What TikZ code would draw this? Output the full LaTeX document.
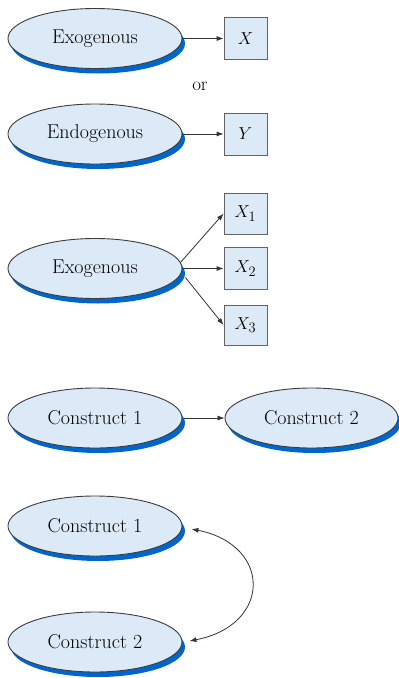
\documentclass[tikz,border=0pt]{standalone}
\usetikzlibrary{shadows,arrows.meta,shapes.geometric}
\definecolor{fillblue}{RGB}{220,233,246}
\definecolor{shadowblue}{RGB}{0,102,204}
\definecolor{edgegray}{RGB}{60,60,60}
\begin{document}
\begin{tikzpicture}[x=1pt,y=-1pt,
  construct/.style={ellipse,draw=edgegray,line width=0.9pt,fill=fillblue,
    minimum width=174pt,minimum height=60pt,inner sep=0pt,
    general shadow={fill=shadowblue,shadow xshift=3pt,shadow yshift=-5pt},
    font=\fontsize{20}{24}\selectfont},
  varbox/.style={rectangle,draw=edgegray!80,line width=0.8pt,fill=fillblue,
    minimum width=43pt,minimum height=42pt,inner sep=0pt,
    font=\fontsize{19}{22}\selectfont},
  arr/.style={draw=black!80,line width=0.8pt,-{Latex[length=7pt,width=5pt]}},
  biarr/.style={draw=black!80,line width=0.8pt,{Latex[length=7pt,width=5pt]}-{Latex[length=7pt,width=5pt]}}]
\useasboundingbox (0,0) rectangle (399,678);
% row 1
\node[construct] (exo1) at (95,38.5) {Exogenous};
\node[varbox] (X) at (245.5,38.5) {$X$};
\draw[arr] (exo1.east) -- (X.west);
\node[font=\fontsize{19}{22}\selectfont] (or) at (200,86) {or};
% row 2
\node[construct] (endo) at (95,134) {Endogenous};
\node[varbox] (Y) at (245.5,134) {$Y$};
\draw[arr] (endo.east) -- (Y.west);
% row 3
\node[construct] (exo2) at (95,268.5) {Exogenous};
\node[varbox,minimum height=41pt] (X1) at (245.5,213.5) {$X_1$};
\node[varbox,minimum height=42pt] (X2) at (245.5,268.5) {$X_2$};
\node[varbox,minimum height=40pt] (X3) at (245.5,325) {$X_3$};
\draw[arr] ([xshift=-2pt,yshift=6pt]exo2.east) -- (X1.west);
\draw[arr] ([xshift=1pt]exo2.east) -- (X2.west);
\draw[arr] ([xshift=3pt,yshift=-9pt]exo2.east) -- (X3.west);
% row 4
\node[construct] (c1a) at (95,418) {Construct 1};
\node[construct,minimum width=173pt] (c2a) at (311.5,418) {Construct 2};
\draw[arr] ([xshift=2pt]c1a.east) -- (c2a.west);
% row 5
\node[construct] (c1b) at (95,526) {Construct 1};
\node[construct] (c2b) at (95,642) {Construct 2};
\coordinate (p1) at ([xshift=9pt,yshift=-3pt]c1b.east);
\coordinate (p2) at ([xshift=7pt,yshift=1pt]c2b.east);
\draw[biarr] (p1) .. controls (272,545) and (272,625) .. (p2);
\end{tikzpicture}
\end{document}
